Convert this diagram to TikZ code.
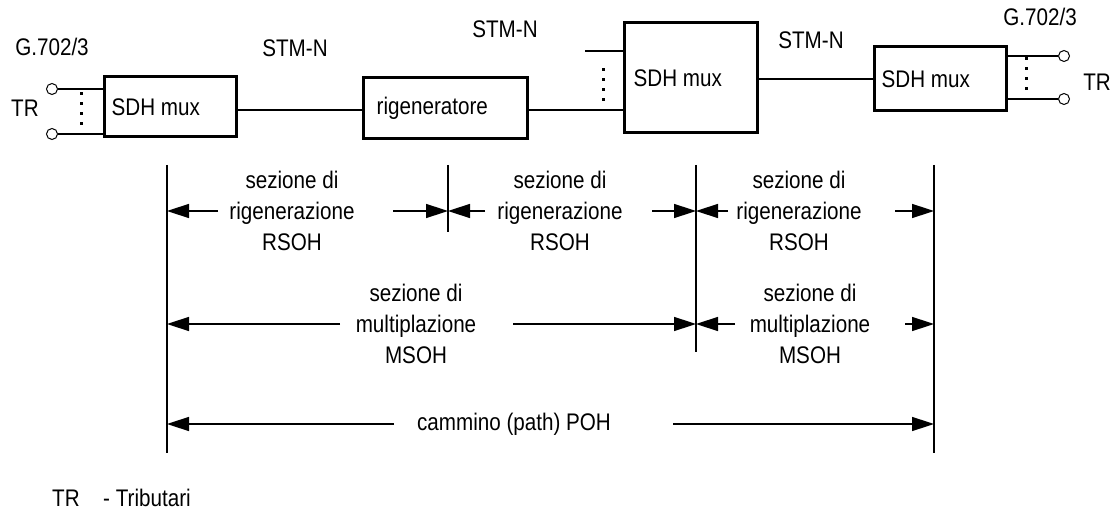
\documentclass[tikz,border=0pt]{standalone}
\usepackage{fontspec}
\setmainfont[FakeStretch=0.86]{Liberation Sans}
\usetikzlibrary{arrows.meta}
\begin{document}
\begin{tikzpicture}[x=1pt,y=-1pt,
  every node/.style={font=\fontsize{24}{31}\selectfont, inner sep=0pt},
  box/.style={draw, line width=3pt, inner sep=0pt},
  wire/.style={line width=1.5pt},
  term/.style={draw, circle, line width=1pt, minimum size=11pt, inner sep=0pt},
  dots/.style={line width=3pt, dash pattern=on 3pt off 7pt},
  dim/.style={line width=1.5pt, -{Triangle[length=22pt,width=14pt]}},
  tick/.style={line width=1.5pt},
  lbl/.style={align=center}]
\useasboundingbox (0,0) rectangle (1114,513);
% boxes
\node[box, minimum width=132pt, minimum height=60pt] (m1) at (170,107) {};
\node[box, minimum width=164pt, minimum height=61pt] (reg) at (445,108.5) {};
\node[box, minimum width=133pt, minimum height=110pt] (m2) at (690.5,78) {};
\node[box, minimum width=132pt, minimum height=64pt] (m3) at (940,79) {};
\node[anchor=west] (m1t) at ([xshift=9pt]m1.west) {SDH mux};
\node[anchor=west] (regt) at ([xshift=15pt]reg.west) {rigeneratore};
\node[anchor=west] (m2t) at ([xshift=11pt]m2.west) {SDH mux};
\node[anchor=west] (m3t) at ([xshift=9pt]m3.west) {SDH mux};
% terminals
\node[term] (cL1) at (52,89) {};
\node[term] (cL2) at (52,134) {};
\node[term] (cR1) at (1064,56) {};
\node[term] (cR2) at (1064,99) {};
\draw[wire] (cL1.east) -- (m1.west |- cL1);
\draw[wire] (cL2.east) -- (m1.west |- cL2);
\draw[wire] (m3.east |- cR1) -- (cR1.west);
\draw[wire] (m3.east |- cR2) -- (cR2.west);
\draw[dots] (81,92.5) -- (81,125.5);
\draw[dots] (603,68.5) -- (603,101.5);
\draw[dots] (1026,57.5) -- (1026,90.5);
% links
\coordinate (rowA) at (0,110);
\coordinate (rowB) at (0,79);
\coordinate (inM2) at (585,51);
\draw[wire] (m1.east |- rowA) -- (reg.west |- rowA);
\draw[wire] (reg.east |- rowA) -- (m2.west |- rowA);
\draw[wire] (inM2) -- (m2.west |- inM2);
\draw[wire] (m2.east |- rowB) -- (m3.west |- rowB);
% top labels
\node (gL) at (52,47) {G.702/3};
\node (trL) at (25,108) {TR};
\node (s1) at (295,48) {STM-N};
\node (s2) at (505,29) {STM-N};
\node (s3) at (811,40) {STM-N};
\node (gR) at (1040,17) {G.702/3};
\node (trR) at (1097,82) {TR};
% vertical markers
\coordinate (v1t) at (167,165); \coordinate (v1b) at (167,453);
\coordinate (v2t) at (448,165); \coordinate (v2b) at (448,232);
\coordinate (v3t) at (696,165); \coordinate (v3b) at (696,352);
\coordinate (v4t) at (934,165); \coordinate (v4b) at (934,453);
\draw[tick] (v1t) -- (v1b);
\draw[tick] (v2t) -- (v2b);
\draw[tick] (v3t) -- (v3b);
\draw[tick] (v4t) -- (v4b);
% section labels
\node[lbl] (r1) at (292,211) {sezione di\\rigenerazione\\RSOH};
\node[lbl] (r2) at (560,211) {sezione di\\rigenerazione\\RSOH};
\node[lbl] (r3) at (799,211) {sezione di\\rigenerazione\\RSOH};
\node[lbl] (mu1) at (416,324) {sezione di\\multiplazione\\MSOH};
\node[lbl] (mu2) at (810,324) {sezione di\\multiplazione\\MSOH};
\node (path) at (514,424) {cammino (path) POH};
% arrow starts
\coordinate (a1) at (218,211); \coordinate (a2) at (393,211);
\coordinate (a3) at (485,211); \coordinate (a4) at (652,211);
\coordinate (a5) at (728,211); \coordinate (a6) at (895,211);
\coordinate (b1) at (340,324); \coordinate (b2) at (513,324);
\coordinate (b3) at (735,324); \coordinate (b4) at (905,324);
\coordinate (c1) at (394,424); \coordinate (c2) at (673,424);
\draw[dim] (a1) -- (v1t |- a1);
\draw[dim] (a2) -- (v2t |- a2);
\draw[dim] (a3) -- (v2t |- a3);
\draw[dim] (a4) -- (v3t |- a4);
\draw[dim] (a5) -- (v3t |- a5);
\draw[dim] (a6) -- (v4t |- a6);
\draw[dim] (b1) -- (v1t |- b1);
\draw[dim] (b2) -- (v3t |- b2);
\draw[dim] (b3) -- (v3t |- b3);
\draw[dim] (b4) -- (v4t |- b4);
\draw[dim] (c1) -- (v1t |- c1);
\draw[dim] (c2) -- (v4t |- c2);
% footer
\node (ftr) at (66,498) {TR};
\node[anchor=west] (ftrib) at (103,498) {- Tributari};
\end{tikzpicture}
\end{document}
